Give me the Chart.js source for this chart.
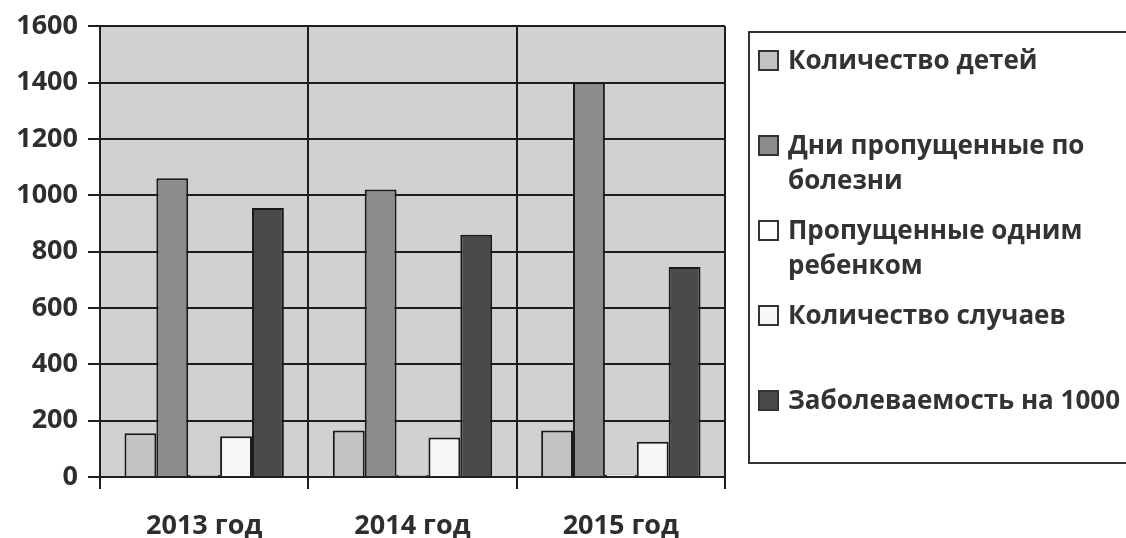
<!DOCTYPE html>
<html>
<head>
<meta charset="utf-8">
<script src="https://cdn.jsdelivr.net/npm/chart.js@4"></script>
<style>
  html, body { margin: 0; padding: 0; background: #fff; }
  #wrap { position: relative; width: 1126px; height: 538px; }
  #legend {
    position: absolute; left: 748px; top: 31px; width: 390px; height: 433px;
    border: 2px solid #333; box-sizing: border-box; padding-top: 9px;
    font-family: "Open Sans", sans-serif; font-weight: bold; font-size: 26px; color: #333;
  }
  .item { position: relative; height: 85px; padding-left: 38px; line-height: 35px; white-space: pre-line; }
  .sw { position: absolute; left: 8px; top: 8px; width: 17px; height: 17px; border: 2px solid #333; }
</style>
</head>
<body>
<div id="wrap">
  <canvas id="chart" width="1126" height="538"></canvas>
  <div id="legend"></div>
</div>
<script>
var categories = ['2013 год', '2014 год', '2015 год'];
var seriesNames = ['Количество детей', 'Дни пропущенные по\nболезни', 'Пропущенные одним\nребенком', 'Количество случаев', 'Заболеваемость на 1000'];
var childrenCount = [155, 165, 165];
var sickDays = [1060, 1020, 1400];
var daysPerChild = [7, 7, 8];
var casesCount = [145, 140, 125];
var incidence = [955, 860, 745];
var colors = ['#c3c3c3', '#8c8c8c', '#ffffff', '#f7f7f7', '#4a4a4a'];

document.addEventListener('DOMContentLoaded', function () {
    var values = [childrenCount, sickDays, daysPerChild, casesCount, incidence];
    var datasets = values.map(function (v, i) {
        return {
            label: seriesNames[i].replace('\n', ' '),
            data: v,
            backgroundColor: colors[i],
            borderColor: '#1a1a1a',
            borderWidth: 2,
            borderSkipped: 'bottom',
            categoryPercentage: 0.765,
            barPercentage: 1
        };
    });

    // legend as html
    var legend = document.getElementById('legend');
    seriesNames.forEach(function (name, i) {
        var item = document.createElement('div');
        item.className = 'item';
        item.textContent = name;
        var sw = document.createElement('span');
        sw.className = 'sw';
        sw.style.background = colors[i];
        item.appendChild(sw);
        legend.appendChild(item);
    });

    var plotBg = {
        id: 'plotBg',
        beforeDraw: function (chart) {
            var a = chart.chartArea, c = chart.ctx;
            c.save();
            c.fillStyle = '#d1d1d1';
            c.fillRect(a.left, a.top, a.right - a.left, a.bottom - a.top);
            c.restore();
        }
    };

    var tickFont = { family: '"Open Sans", sans-serif', size: 27, weight: 'bold' };

    new Chart(document.getElementById('chart').getContext('2d'), {
        type: 'bar',
        data: { labels: categories, datasets: datasets },
        plugins: [plotBg],
        options: {
            responsive: false,
            animation: false,
            layout: { padding: { top: 25, right: 401, bottom: 0, left: 0 } },
            plugins: { legend: { display: false }, tooltip: { enabled: false } },
            scales: {
                x: {
                    offset: true,
                    grid: { offset: true, color: '#1e1e1e', lineWidth: 2, tickLength: 12 },
                    border: { color: '#1e1e1e', width: 2 },
                    ticks: { font: tickFont, color: '#2e2e2e', padding: 21 },
                    afterFit: function (s) { s.height = 61; }
                },
                y: {
                    min: 0, max: 1600,
                    grid: { color: '#1e1e1e', lineWidth: 2, tickLength: 12 },
                    border: { color: '#1e1e1e', width: 2 },
                    ticks: {
                        stepSize: 200, font: tickFont, color: '#2e2e2e', padding: 10,
                        callback: function (v) { return String(v); }
                    },
                    afterFit: function (s) { s.width = 100; }
                }
            }
        }
    });
});
</script>
</body>
</html>
